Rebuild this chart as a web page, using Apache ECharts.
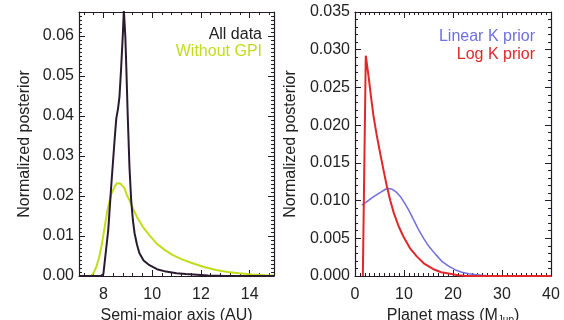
<!DOCTYPE html>
<html><head><meta charset="utf-8">
<script src="https://cdn.jsdelivr.net/npm/echarts@6/dist/echarts.min.js"></script>
<style>html,body{margin:0;padding:0;background:#fff}#c{width:564px;height:320px}</style>
</head><body><div id="c"></div>
<script>
// Left panel: semi-major axis posterior
const allData = [[7.0,0],[7.9,0],[8.0,0.0005],[8.1,0.006],[8.2,0.0115],[8.32,0.0223],[8.46,0.034],[8.53,0.0394],[8.6,0.0418],[8.66,0.0448],[8.72,0.051],[8.8,0.0606],[8.84,0.0665],[8.9,0.060],[8.94,0.0523],[9.0,0.040],[9.07,0.0273],[9.14,0.019],[9.21,0.014],[9.28,0.0107],[9.38,0.0078],[9.48,0.0057],[9.65,0.0039],[9.89,0.0027],[10.2,0.0017],[10.57,0.0011],[11.0,0.0007],[11.39,0.0005],[12.3,0.0001],[13.0,0],[15.0,0]];
const withoutGPI = [[7.0,0],[7.5,0],[7.6,0.0008],[7.71,0.0023],[7.82,0.0045],[7.92,0.0073],[8.02,0.011],[8.12,0.0148],[8.22,0.018],[8.33,0.0206],[8.46,0.0223],[8.55,0.0232],[8.62,0.0235],[8.7,0.0231],[8.78,0.0228],[8.87,0.0219],[8.94,0.0206],[9.05,0.0192],[9.21,0.0169],[9.4,0.0145],[9.62,0.0123],[9.9,0.0101],[10.17,0.0082],[10.5,0.0066],[10.85,0.0052],[11.25,0.0041],[11.66,0.0032],[12.1,0.0023],[12.62,0.0015],[13.1,0.001],[13.57,0.0007],[14.1,0.0004],[14.66,0.0002],[15.0,0.0001]];
// Right panel: planet mass posterior
const linearK = [[1.4,0.0094],[2.5,0.0099],[3.3,0.0103],[4.2,0.0107],[5.2,0.0111],[6.2,0.0115],[6.9,0.0116],[7.6,0.0115],[8.3,0.0112],[9.3,0.0105],[10.1,0.0097],[11.0,0.0087],[12.0,0.0074],[13.0,0.0061],[14.0,0.005],[15.1,0.0039],[16.4,0.0029],[17.8,0.0019],[19.1,0.0013],[20.5,0.0008],[21.8,0.0005],[23.2,0.0003],[24.5,0.0002],[25.9,0.0001],[27.5,0],[40,0]];
const logK = [[1.6,0],[2.2,0.0292],[2.5,0.0278],[2.8,0.0263],[3.3,0.0236],[3.8,0.0211],[4.4,0.0188],[5.1,0.0164],[5.8,0.0141],[6.5,0.0119],[7.2,0.0100],[7.9,0.0084],[8.9,0.0066],[9.9,0.0052],[11.2,0.0037],[12.6,0.0026],[14.2,0.0016],[16.0,0.0009],[17.6,0.0005],[19.4,0.0003],[21.0,0.0001],[22.8,0],[40,0]];
const leftXTicks = [8, 10, 12, 14];
const leftYTicks = [0, 0.01, 0.02, 0.03, 0.04, 0.05, 0.06];
const rightXTicks = [0, 10, 20, 30, 40];
const rightYTicks = [0, 0.005, 0.01, 0.015, 0.02, 0.025, 0.03, 0.035];

const leftXMinor = [];
for (let i = 18; i < 38; i++) { const v = +(i * 0.4).toFixed(2); if (Math.abs(v / 2 - Math.round(v / 2)) > 1e-6) leftXMinor.push(v); }

const chart = echarts.init(document.getElementById('c'));
const ink = '#221a26';
const font = 'Liberation Sans, Arial, Helvetica, sans-serif';
const nameStyle = {fontSize: 16, color: '#222', fontFamily: font,
  rich: {sub: {fontSize: 10, color: '#222', fontFamily: font, padding: [8, 0, 0, 0]}}};
function xMajor(grid, min, max, interval, pos, name, labels, customTicks, minorSplit) {
  const ax = {
    type: 'value', gridIndex: grid, min: min, max: max, interval: interval, position: pos,
    axisLine: {show: true, onZero: false, lineStyle: {color: ink, width: 1.2}},
    axisTick: {show: true, inside: true, length: 6, lineStyle: {color: ink}},
    minorTick: {show: !!minorSplit, splitNumber: minorSplit || 5, length: 3, lineStyle: {color: ink}},
    splitLine: {show: false}, minorSplitLine: {show: false},
    axisLabel: {show: labels, margin: 11, fontSize: 16, color: '#222', fontFamily: font},
    name: name, nameLocation: 'middle', nameGap: 25, nameTextStyle: nameStyle
  };
  if (customTicks) { ax.axisTick.customValues = customTicks; ax.axisLabel.customValues = customTicks; }
  return ax;
}
function xMinor(grid, min, max, pos, values) {
  return {
    type: 'value', gridIndex: grid, min: min, max: max, position: pos,
    axisLine: {show: false, onZero: false},
    axisTick: {show: true, inside: true, length: 3, customValues: values, lineStyle: {color: ink}},
    axisLabel: {show: false}, splitLine: {show: false}
  };
}
function yAx(grid, ticks, max, minorSplit, pos, name, labels, gap, fmt) {
  return {
    type: 'value', gridIndex: grid, min: ticks[0], max: max, interval: ticks[1] - ticks[0], position: pos,
    axisLine: {show: true, onZero: false, lineStyle: {color: ink, width: 1.2}},
    axisTick: {show: true, inside: true, length: 6, lineStyle: {color: ink}},
    minorTick: {show: true, splitNumber: minorSplit, length: 3, lineStyle: {color: ink}},
    splitLine: {show: false}, minorSplitLine: {show: false},
    axisLabel: {show: labels, margin: 5, fontSize: 16, color: '#222', fontFamily: font,
      customValues: ticks, formatter: v => v.toFixed(fmt)},
    name: name, nameLocation: 'middle', nameGap: gap, nameTextStyle: nameStyle
  };
}
chart.setOption({
  animation: false,
  grid: [
    {left: 79, top: 12, width: 195, height: 264, outerBoundsMode: 'none', containLabel: false},
    {left: 355, top: 12, width: 196, height: 264, outerBoundsMode: 'none', containLabel: false}
  ],
  xAxis: [
    xMajor(0, 7, 15, 2, 'bottom', 'Semi-major axis (AU)', true, leftXTicks, 0),
    xMajor(0, 7, 15, 2, 'top', '', false, leftXTicks, 0),
    xMinor(0, 7, 15, 'bottom', leftXMinor),
    xMinor(0, 7, 15, 'top', leftXMinor),
    xMajor(1, rightXTicks[0], rightXTicks[rightXTicks.length - 1], 10, 'bottom', 'Planet mass (M{sub|Jup})', true, null, 10),
    xMajor(1, rightXTicks[0], rightXTicks[rightXTicks.length - 1], 10, 'top', '', false, null, 10)
  ],
  yAxis: [
    yAx(0, leftYTicks, 0.066, 10, 'left', 'Normalized posterior', true, 46, 2),
    yAx(0, leftYTicks, 0.066, 10, 'right', '', false, 0, 2),
    yAx(1, rightYTicks, 0.035, 5, 'left', 'Normalized posterior', true, 56, 3),
    yAx(1, rightYTicks, 0.035, 5, 'right', '', false, 0, 3)
  ],
  series: [
    {type: 'line', xAxisIndex: 0, yAxisIndex: 0, data: withoutGPI, showSymbol: false, clip: true,
      lineStyle: {color: '#c2dc1c', width: 2}},
    {type: 'line', xAxisIndex: 0, yAxisIndex: 0, data: allData, showSymbol: false, clip: true,
      lineStyle: {color: '#2a1a30', width: 2}},
    {type: 'line', xAxisIndex: 4, yAxisIndex: 2, data: linearK, showSymbol: false, clip: true,
      lineStyle: {color: '#6f6fe0', width: 1.5}},
    {type: 'line', xAxisIndex: 4, yAxisIndex: 2, data: logK, showSymbol: false, clip: true,
      lineStyle: {color: '#e0282a', width: 2}}
  ],
  graphic: [
    {type: 'text', right: 564 - 262, top: 27, style: {text: 'All data', fill: '#222', font: '16px ' + font, textAlign: 'right'}},
    {type: 'text', right: 564 - 262, top: 44, style: {text: 'Without GPI', fill: '#c2dc1c', font: '16px ' + font, textAlign: 'right'}},
    {type: 'text', right: 564 - 535, top: 29, style: {text: 'Linear K prior', fill: '#6f6fe0', font: '16px ' + font, textAlign: 'right'}},
    {type: 'text', right: 564 - 535, top: 47, style: {text: 'Log K prior', fill: '#e0282a', font: '16px ' + font, textAlign: 'right'}}
  ]
});
</script></body></html>
